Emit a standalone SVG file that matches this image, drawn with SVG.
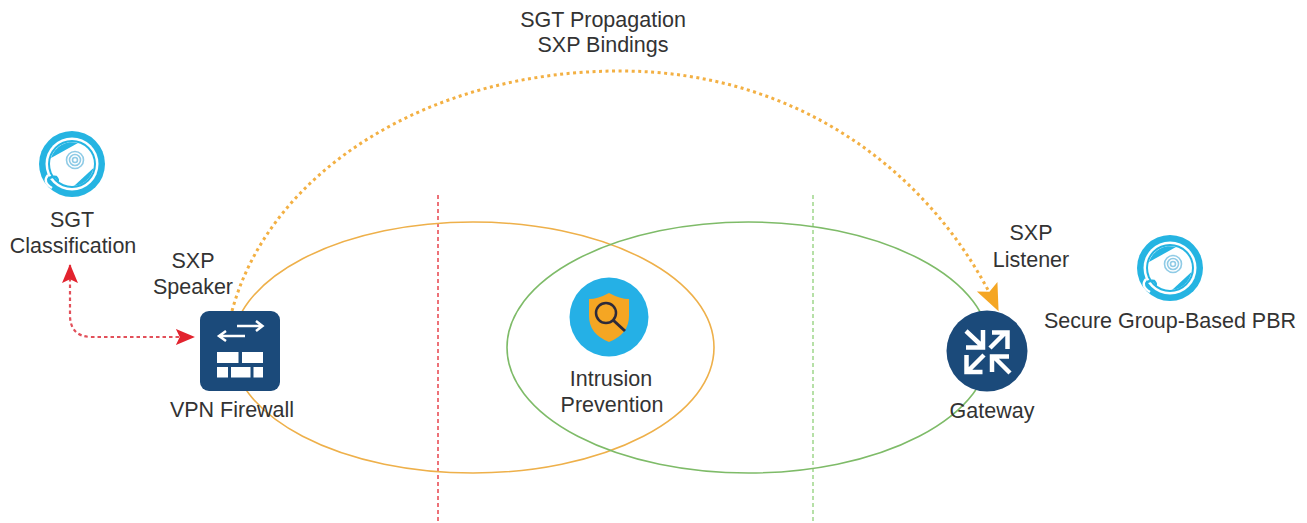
<svg xmlns="http://www.w3.org/2000/svg" width="1307" height="523" viewBox="0 0 1307 523">
<style>
text{font-family:"Liberation Sans",Arial,sans-serif;font-size:21.500px;fill:#333;text-anchor:middle}
.ell{fill:none;stroke-width:1.600}
.wh{fill:none;stroke:#fff;stroke-linejoin:miter}
</style>
<defs>
<marker id="red" viewBox="0 0 10 10" refX="9.500" refY="5" markerWidth="19" markerHeight="19" markerUnits="userSpaceOnUse" orient="auto-start-reverse"><path d="M0 0.800L10 5L0 9.200L2 5Z" fill="#e2232e"/></marker>
<marker id="org" viewBox="0 0 10 10" refX="9.500" refY="5" markerWidth="27" markerHeight="27" markerUnits="userSpaceOnUse" orient="auto"><path d="M0 0.800L10 5L0 9.200L2 5Z" fill="#f5a623"/></marker>
<g id="badge">
<circle r="33" fill="#25b4e2"/>
<circle r="26.500" fill="#fff"/>
<circle r="24" fill="#25b4e2"/>
<circle r="22" fill="#fff"/>
<path d="M21.500 4A22 22 0 0 1 2 21.900Z" fill="#25b4e2"/>
<path d="M-21 -6A22 22 0 0 1 6 -21Z" fill="#25b4e2"/>
<path d="M-27 17Q-21 12 -16 13Q-13 16 -15 18" fill="none" stroke="#25b4e2" stroke-width="2.500"/>
<path d="M-24 11Q-30 18 -20 24" fill="none" stroke="#fff" stroke-width="2.500"/>
<g fill="none" stroke="#8fcbe6" stroke-width="1.600">
<circle cx="3" cy="-4" r="2.500"/><circle cx="3" cy="-4" r="5.500"/><circle cx="3" cy="-4" r="8.500"/>
</g>
</g>
</defs>
<rect width="1307" height="523" fill="#fff"/>

<g id="zones">
<path d="M438 195V523" stroke="#e8434c" stroke-width="1.500" stroke-dasharray="4 3" fill="none"/>
<path d="M813 195V523" stroke="#9fd68a" stroke-width="1.500" stroke-dasharray="4 3" fill="none"/>
<ellipse class="ell" cx="473" cy="347.500" rx="241" ry="125.500" stroke="#eeb04a"/>
<ellipse class="ell" cx="748.500" cy="347.500" rx="241.500" ry="125.500" stroke="#7ebb68"/>
</g>

<g id="connectors">
<path d="M232 311C270 170 430 71 620 71C800 71 935 175 998 310" fill="none" stroke="#f3b043" stroke-width="3" stroke-dasharray="3 3.500" marker-end="url(#org)"/>
<path d="M70 265V315Q70 337 92 337H194" fill="none" stroke="#e2505a" stroke-width="2.200" stroke-dasharray="3.500 3" marker-start="url(#red)" marker-end="url(#red)"/>
</g>

<g id="sgt-classification">
<use href="#badge" x="72" y="164"/>
<text x="72" y="227">SGT</text>
<text x="73" y="253">Classification</text>
</g>
<g id="sxp-speaker">
<text x="193" y="268">SXP</text>
<text x="193" y="294">Speaker</text>
</g>
<g id="vpn-firewall">
<rect x="200" y="311" width="80" height="80" rx="9" fill="#1b4a7a"/>
<path class="wh" stroke-width="2.500" d="M237 326H262M256 321L262.500 326L256 331M245 336H219.500M226 331L219 336L226 341"/>
<g fill="#fff">
<rect x="217" y="352" width="21.500" height="11"/><rect x="242" y="352" width="21" height="11"/>
<rect x="217" y="367" width="11" height="10.500"/><rect x="231" y="367" width="19.500" height="10.500"/><rect x="253.500" y="367" width="9.500" height="10.500"/>
</g>
<text x="232" y="417">VPN Firewall</text>
</g>
<g id="intrusion-prevention">
<circle cx="609" cy="317" r="39.500" fill="#25b0e6"/>
<path d="M609 293Q620 299 629 299V316Q629 334 609 342Q589 334 589 316V299Q598 299 609 293Z" fill="#f5a623"/>
<circle cx="606" cy="313" r="10" fill="none" stroke="#2d2a3a" stroke-width="2.500"/>
<path d="M613 320L625 331" stroke="#2d2a3a" stroke-width="3"/>
<text x="611" y="386">Intrusion</text>
<text x="612" y="412">Prevention</text>
</g>
<g id="sxp-listener">
<text x="1031" y="240">SXP</text>
<text x="1031" y="267">Listener</text>
</g>
<g id="gateway">
<circle cx="987" cy="351" r="40.500" fill="#1b4a7a"/>
<g class="wh" stroke-width="4.500">
<path d="M966 331L982 346M966 347.500H983V330"/>
<path d="M990 348L1006 332M992 332.500H1007.500V349"/>
<path d="M984 355L968 371M982.500 372H966.500V355"/>
<path d="M1010 373L994 357M992 372V356.500H1009"/>
</g>
<text x="992" y="418">Gateway</text>
</g>
<g id="secure-group-pbr">
<use href="#badge" x="1170" y="268"/>
<text x="1170" y="328">Secure Group-Based PBR</text>
</g>
<g id="sgt-propagation">
<text x="603" y="27">SGT Propagation</text>
<text x="603" y="52">SXP Bindings</text>
</g>
</svg>
